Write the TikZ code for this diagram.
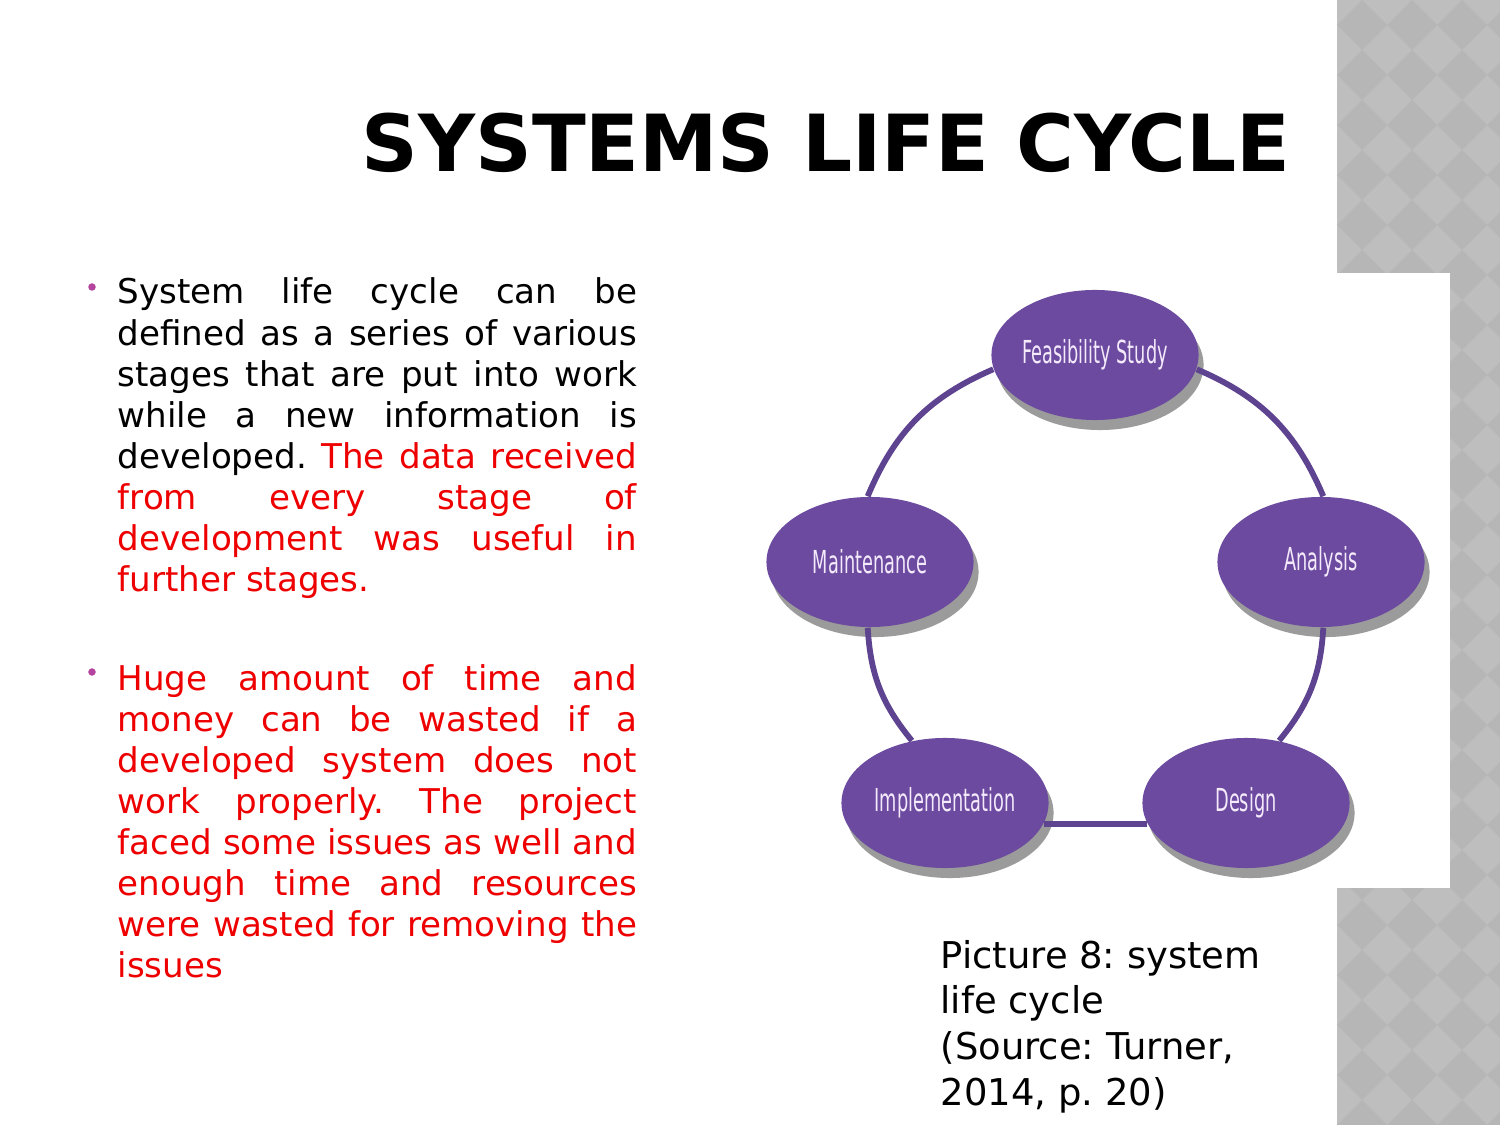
\documentclass[tikz,border=0pt]{standalone}
\usepackage{fontspec}
\setmainfont{DejaVu Sans}
\newfontfamily\stagefont[FakeStretch=0.56]{DejaVu Sans}
\frenchspacing
\usepackage{tikz}
\usetikzlibrary{positioning,shapes.geometric,shadows}

\definecolor{stagepurple}{HTML}{6B4A9F}
\definecolor{linkpurple}{HTML}{5E4490}
\definecolor{stagetext}{HTML}{F4EAFB}
\definecolor{shadowgray}{HTML}{9B9B9B}
\definecolor{textred}{HTML}{EE0000}
\definecolor{bulletpink}{HTML}{B4449E}
\definecolor{striplight}{HTML}{BEBEBE}
\definecolor{stripdark}{HTML}{B6B6B6}

\begin{document}
\begin{tikzpicture}[
    x=0.01cm, y=-0.01cm,
    stage/.style={ellipse, fill=stagepurple, text=stagetext, inner sep=0pt,
        minimum width=2.07cm, minimum height=1.3cm,
        font=\stagefont\fontsize{9}{11}\selectfont,
        drop shadow={shadow xshift=0.05cm, shadow yshift=-0.1cm, fill=shadowgray, opacity=1}},
    link/.style={draw=linkpurple, line width=1.65pt},
    para/.style={anchor=base west, inner sep=0pt, text width=5.19cm, align=justify,
        font=\fontsize{9.7}{11.67}\selectfont},
    bullet/.style={circle, fill=bulletpink, inner sep=0pt, minimum size=0.075cm}
]
\fill[white] (0,0) rectangle (1500,1125);
\useasboundingbox (0,0) rectangle (1500,1125);

% -------- Side strip --------
\begin{scope}
\clip (1337,0) rectangle (1500,1125);
\fill[striplight] (1337,0) rectangle (1500,1125);
\foreach \i in {-1,...,3}
  \foreach \j in {-1,...,23}
    \fill[stripdark] (1362+50*\i,25+50*\j) +(-25,0) -- +(0,25) -- +(25,0) -- +(0,-25) -- cycle;
\end{scope}
\fill[white] (1337,273) rectangle (1450,888);

% -------- Title --------
\node[anchor=base east, font=\fontsize{22.4}{27}\selectfont\bfseries] (title) at (1303,172) {SYSTEMS LIFE CYCLE};

% -------- Text --------
\node[bullet] (dot1) at (92,287) {};
\node[para] (para1) at (117,304) {
System life cycle can be\linebreak
defined as a series of various\linebreak
stages that are put into work\linebreak
while a new information is\linebreak
developed. {\color{textred}The data received\linebreak
from every stage of\linebreak
development was useful in\linebreak
further stages.}
};

\node[bullet] (dot2) at (92,672) {};
\node[para, text=textred] (para2) at (117,690) {
Huge amount of time and\linebreak
money can be wasted if a\linebreak
developed system does not\linebreak
work properly. The project\linebreak
faced some issues as well and\linebreak
enough time and resources\linebreak
were wasted for removing the\linebreak
issues
};

% -------- Cycle --------
\node[stage] (feasibility) at (1095,355) {Feasibility Study};
\node[stage] (analysis) at (1321,562) {Analysis};
\node[stage] (design) at (1246,803) {Design};
\node[stage] (implementation) at (945,803) {Implementation};
\node[stage] (maintenance) at (870,562) {Maintenance};

\draw[link] (feasibility.352) to[bend left=22] (analysis.88);
\draw[link] (analysis.272) to[bend left=18] (design.62);
\draw[link] (implementation.-12) -- (design.192);
\draw[link] (maintenance.268) to[bend right=18] (implementation.118);
\draw[link] (feasibility.188) to[bend right=22] (maintenance.92);

% -------- Caption --------
\node[anchor=base west, inner sep=0pt, align=left, font=\fontsize{10.5}{12.95}\selectfont] (caption) at (940,1105) {
Picture 8: system\\
life cycle\\
(Source: Turner,\\
2014, p. 20)
};

\end{tikzpicture}
\end{document}
